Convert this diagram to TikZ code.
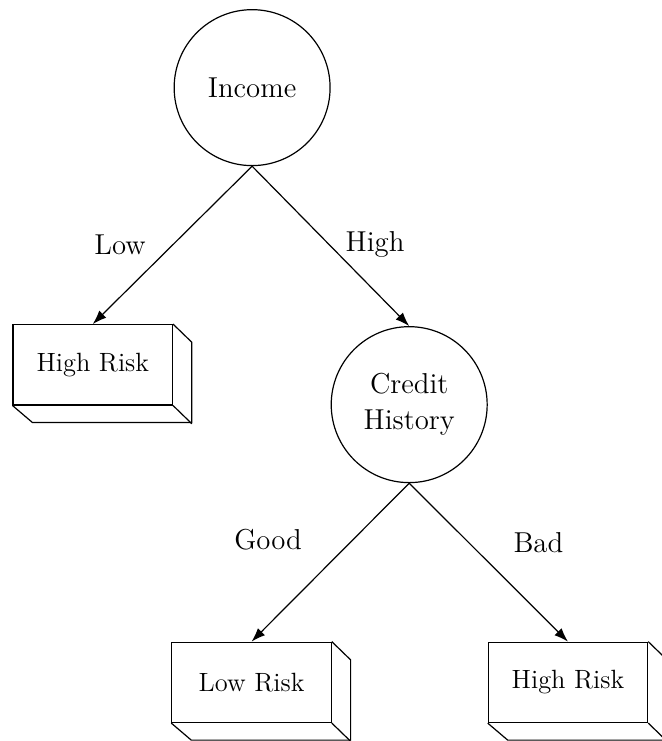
\documentclass[tikz,border=0pt]{standalone}
\usepackage{amsmath, amsfonts}
\usepackage{tikz}
\usetikzlibrary{arrows.meta}

\begin{document}
\begin{tikzpicture}[line width=0.6pt,
    attr/.style={circle, draw, minimum size=2.74cm, inner sep=0pt, align=center, font=\Large},
    leaf/.style={rectangle, draw, minimum width=2.8cm, minimum height=1.41cm, inner sep=0pt, font=\fontsize{13.2}{16}\selectfont},
    branch/.style={font=\Large}]
            \useasboundingbox (0,0) rectangle (11.62,13.02);

            \node[attr] (income) at (4.43,11.48) {Income};
            \node[attr] (credit) at (7.19,5.91) {Credit\\History};

            \node[leaf] (riskA) at (1.63,6.61) {High Risk};
            \node[leaf] (riskB) at (4.42,1.03) {Low Risk};
            \node[leaf] (riskC) at (9.98,1.03) {High Risk};

            % depth of the boxes
            \foreach \b in {riskA, riskB, riskC} {
                \draw (\b.north east) -- ++(0.33,-0.32) -- ++(0,-1.41) -- ++(-2.8,0) -- (\b.south west);
                \draw (\b.south east) -- ++(0.33,-0.32);
            }

            \draw[-{Latex[length=7pt,width=5pt]}] (income.south) -- (riskA.north);
            \draw[-{Latex[length=7pt,width=5pt]}] (income.south) -- (credit.north);
            \draw[-{Latex[length=7pt,width=5pt]}] (credit.south) -- (riskB.north);
            \draw[-{Latex[length=7pt,width=5pt]}] (credit.south) -- (riskC.north);

            \node[branch] (lblLow) at (2.11,8.72) {Low};
            \node[branch] (lblHigh) at (6.59,8.72) {High};
            \node[branch] (lblGood) at (4.71,3.53) {Good};
            \node[branch] (lblBad) at (9.46,3.48) {Bad};
        \end{tikzpicture}
\end{document}
